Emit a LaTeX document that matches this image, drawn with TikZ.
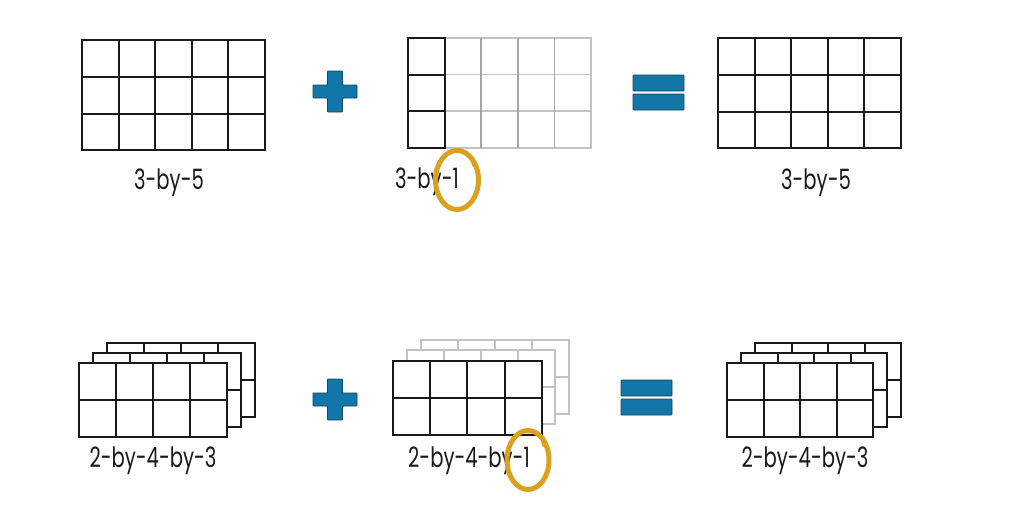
\documentclass[tikz,border=0pt]{standalone}
\usepackage{fontspec}
\setmainfont{Poppins}[FakeStretch=0.70]
\definecolor{mblue}{RGB}{18,118,168}
\definecolor{mblueedge}{RGB}{25,70,95}
\definecolor{ringc}{RGB}{218,160,30}
\definecolor{lg}{RGB}{195,195,195}
\definecolor{mg}{RGB}{165,165,165}
\tikzset{
 gline/.style={line width=1.9pt, black!90, line cap=rect},
 lgline/.style={line width=1.6pt, lg, line cap=rect},
 mgline/.style={line width=1.6pt, mg},
 lbl/.style={font=\fontsize{28}{30}\selectfont, anchor=base, inner sep=0pt, text=black!90},
 opfill/.style={fill=mblue, draw=mblueedge, line width=0.9pt, rounded corners=0.8pt},
 ringst/.style={draw=ringc, line width=5pt},
}
\newcommand\cellgrid[7]{%
  \fill[white] (#1,#2) rectangle ++({#3*#5},{#4*#6});
  \foreach \i in {0,...,#3} \draw[#7] ({#1+\i*#5},#2) -- ++(0,{#4*#6});
  \foreach \j in {0,...,#4} \draw[#7] (#1,{#2+\j*#6}) -- ++({#3*#5},0);
}
\newcommand\plusop[2]{%
  \draw[opfill] ({#1-7.5},{#2-20.5}) -- ({#1+7.5},{#2-20.5}) -- ({#1+7.5},{#2-6.5}) -- ({#1+22},{#2-6.5}) -- ({#1+22},{#2+6.5}) -- ({#1+7.5},{#2+6.5}) -- ({#1+7.5},{#2+20.5}) -- ({#1-7.5},{#2+20.5}) -- ({#1-7.5},{#2+6.5}) -- ({#1-22},{#2+6.5}) -- ({#1-22},{#2-6.5}) -- ({#1-7.5},{#2-6.5}) -- cycle;
}
\begin{document}
\begin{tikzpicture}[x=1pt,y=-1pt]
\useasboundingbox (0,0) rectangle (1013,525);
\fill[white] (0,0) rectangle (1013,525);
% top row
\cellgrid{82}{40}{5}{3}{36.6}{36.8}{gline}
\cellgrid{408}{38}{5}{3}{36.6}{36.6}{lgline}
\foreach \i in {2,3,4} \draw[mgline] ({408+\i*36.6},38) -- ++(0,109.8);
\cellgrid{408}{38}{1}{3}{36.6}{36.6}{gline}
\cellgrid{718}{38}{5}{3}{36.6}{36.8}{gline}
\plusop{335}{91.5}
\draw[opfill] (633,75) rectangle (684,91);
\draw[opfill] (633,94) rectangle (684,110);
% bottom row
\cellgrid{107}{343}{4}{2}{37}{37}{gline}
\cellgrid{93}{353}{4}{2}{37}{37}{gline}
\cellgrid{79}{363}{4}{2}{37}{37}{gline}
\cellgrid{421}{340}{4}{2}{37}{37}{lgline}
\cellgrid{407}{350}{4}{2}{37}{37}{lgline}
\cellgrid{393}{361}{4}{2}{37.2}{37}{gline}
\cellgrid{755}{343}{4}{2}{36.6}{37}{gline}
\cellgrid{741}{353}{4}{2}{36.6}{37}{gline}
\cellgrid{727}{363}{4}{2}{36.6}{37}{gline}
\plusop{335}{399.5}
\draw[opfill] (621,380) rectangle (672,396);
\draw[opfill] (621,399) rectangle (672,415);
% labels
\node[lbl] (lA) at (169,189) {3-by-5};
\node[lbl] (lB) at (427,188) {3-by-1};
\node[lbl] (lC) at (816,189) {3-by-5};
\node[lbl] (lD) at (153,467) {2-by-4-by-3};
\node[lbl] (lE) at (469,467) {2-by-4-by-1};
\node[lbl] (lF) at (805,467) {2-by-4-by-3};
% rings
\draw[ringst] (457,180) ellipse [x radius=21.5, y radius=29.5];
\draw[ringc, line width=3pt, line cap=round] (472,159) -- (474,166);
\draw[ringst] (528,460) ellipse [x radius=21, y radius=29.5];
\draw[ringc, line width=3pt, line cap=round] (542,439) -- (544,446);
\end{tikzpicture}
\end{document}
